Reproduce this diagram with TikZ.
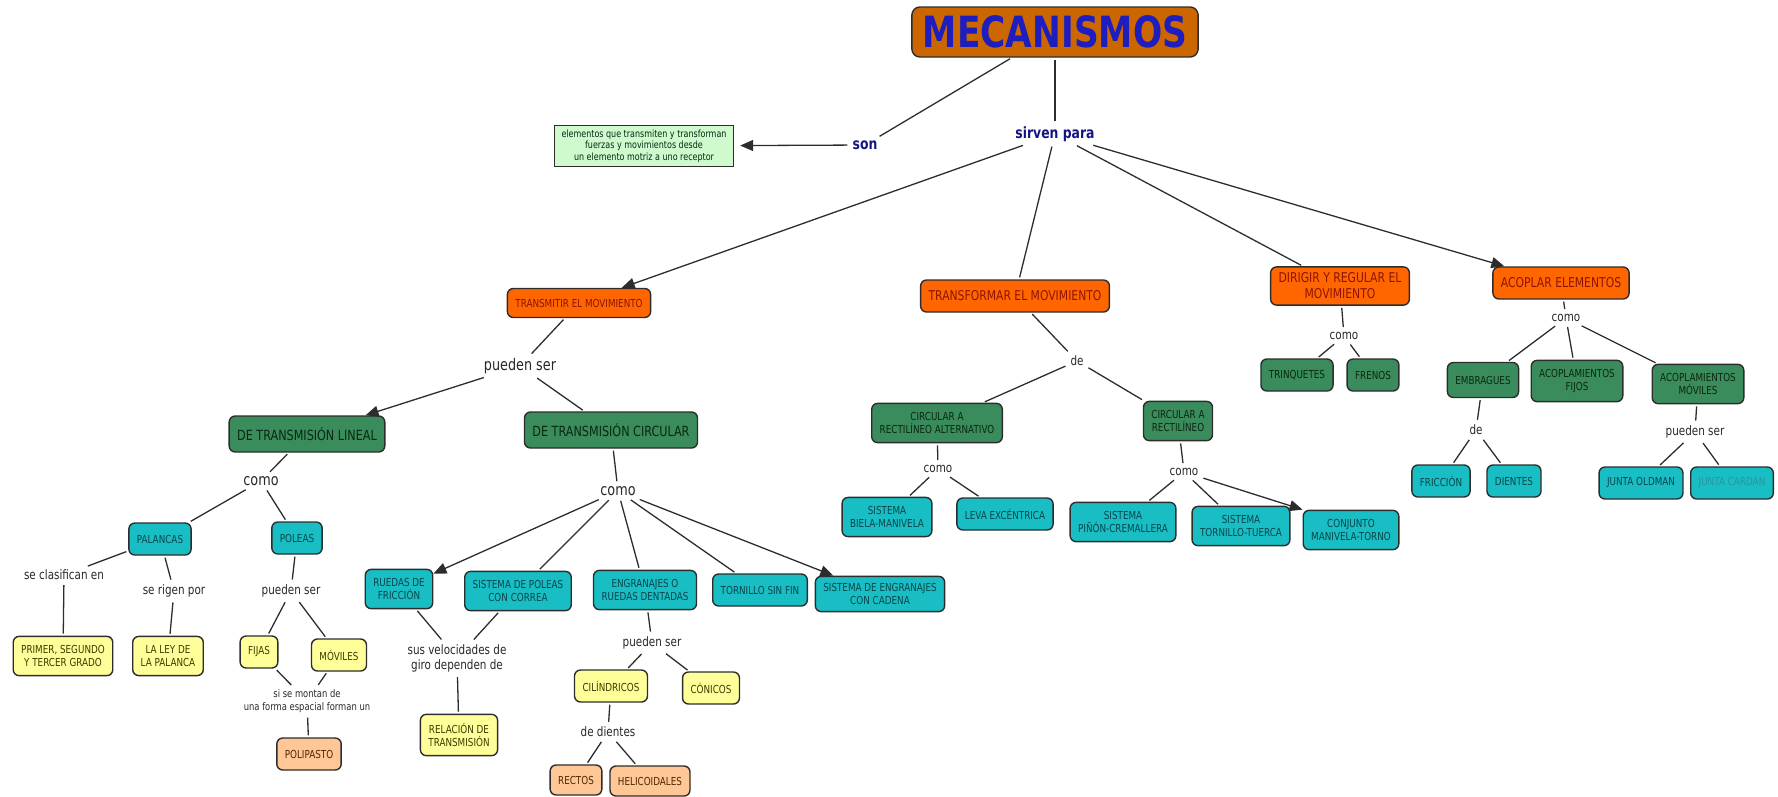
\documentclass[tikz,border=0pt]{standalone}
\usepackage{fontspec}
\setmainfont{DejaVu Sans}[FakeStretch=0.8]
\usetikzlibrary{arrows.meta}

\definecolor{boxline}{RGB}{45,45,45}
\definecolor{mecfill}{RGB}{204,102,0}
\definecolor{mectext}{RGB}{30,30,190}
\definecolor{orfill}{RGB}{255,102,0}
\definecolor{ortext}{RGB}{140,20,0}
\definecolor{grfill}{RGB}{58,140,92}
\definecolor{grtext}{RGB}{10,40,20}
\definecolor{cyfill}{RGB}{24,190,196}
\definecolor{cytext}{RGB}{8,70,76}
\definecolor{cylight}{RGB}{40,150,160}
\definecolor{yefill}{RGB}{255,255,153}
\definecolor{yetext}{RGB}{60,60,0}
\definecolor{pefill}{RGB}{255,198,150}
\definecolor{petext}{RGB}{80,40,0}
\definecolor{deffill}{RGB}{206,250,206}
\definecolor{lbltext}{RGB}{40,40,40}
\definecolor{keytext}{RGB}{20,20,130}

\tikzset{
  box/.style={draw=boxline, line width=1.4pt, rounded corners=6pt, inner xsep=8pt,
    inner ysep=9pt, minimum height=32pt, align=center, font=\fontsize{11}{13}\selectfont},
  orbox/.style={box, fill=orfill, text=ortext, font=\fontsize{13.5}{16}\selectfont},
  grbox/.style={box, fill=grfill, text=grtext},
  cybox/.style={box, fill=cyfill, text=cytext},
  yebox/.style={box, fill=yefill, text=yetext},
  pebox/.style={box, fill=pefill, text=petext},
  bigtext/.style={font=\fontsize{14}{16}\selectfont, minimum height=36pt},
  mecbox/.style={draw=boxline, line width=1.4pt, rounded corners=8pt, fill=mecfill,
    text=mectext, inner xsep=11pt, minimum height=50pt, font=\fontsize{43}{46}\bfseries\selectfont},
  defbox/.style={draw=boxline, line width=1.4pt, fill=deffill, text=grtext, align=center,
    inner xsep=7pt, inner ysep=4pt, font=\fontsize{10}{11.5}\selectfont},
  lbl/.style={text=lbltext, inner sep=3pt, align=center, font=\fontsize{13}{15}\selectfont},
  biglbl/.style={lbl, font=\fontsize{16}{18}\selectfont},
  keylbl/.style={text=keytext, inner sep=3pt, font=\fontsize{15.5}{18}\bfseries\selectfont},
  conn/.style={draw=boxline, line width=1.3pt, shorten <=2pt, shorten >=2pt},
  arr/.style={conn, shorten >=0pt, -{Triangle[length=13pt,width=11pt]}}
}

\begin{document}
\begin{tikzpicture}[x=1pt,y=-1pt]
\useasboundingbox (0,0) rectangle (1778,796);

\node[mecbox] (mec) at (1055,32) {MECANISMOS};
\node[defbox] (def) at (644,146) {elementos que transmiten y transforman\\fuerzas y movimientos desde\\un elemento motriz a uno receptor};
\node[keylbl] (son) at (865,145) {son};
\node[keylbl] (sirven) at (1055,134) {sirven para};

\node[orbox, font=\fontsize{11}{13}\selectfont, minimum height=29pt] (trm) at (579,303) {TRANSMITIR EL MOVIMIENTO};
\node[orbox] (tfm) at (1015,296) {TRANSFORMAR EL MOVIMIENTO};
\node[orbox, inner ysep=6pt] (dir) at (1340,286) {DIRIGIR Y REGULAR EL\\MOVIMIENTO};
\node[orbox] (aco) at (1561,283) {ACOPLAR ELEMENTOS};

\node[biglbl] (ps1) at (520,366) {pueden ser};
\node[grbox, bigtext] (lin) at (307,434) {DE TRANSMISIÓN LINEAL};
\node[grbox, bigtext] (cir) at (611,430) {DE TRANSMISIÓN CIRCULAR};

\node[biglbl] (como1) at (261,481) {como};
\node[cybox] (pal) at (160,539) {PALANCAS};
\node[cybox] (pol) at (297,538) {POLEAS};
\node[lbl] (clas) at (64,575) {se clasifican en};
\node[lbl] (rigen) at (174,591) {se rigen por};
\node[lbl] (ps2) at (291,591) {pueden ser};
\node[yebox] (grado) at (63,656) {PRIMER, SEGUNDO\\Y TERCER GRADO};
\node[yebox] (ley) at (168,656) {LA LEY DE\\LA PALANCA};
\node[yebox] (fij) at (259,652) {FIJAS};
\node[yebox] (mov) at (339,655) {MÓVILES};
\node[lbl, font=\fontsize{10.5}{12.5}\selectfont] (montan) at (307,701) {si se montan de\\una forma espacial forman un};
\node[pebox] (polip) at (309,754) {POLIPASTO};

\node[biglbl] (como2) at (618,491) {como};
\node[cybox] (rue) at (399,589) {RUEDAS DE\\FRICCIÓN};
\node[cybox] (spc) at (518,591) {SISTEMA DE POLEAS\\CON CORREA};
\node[cybox] (eng) at (645,590) {ENGRANAJES O\\RUEDAS DENTADAS};
\node[cybox] (tsf) at (760,590) {TORNILLO SIN FIN};
\node[cybox, inner ysep=7pt] (sec) at (880,594) {SISTEMA DE ENGRANAJES\\CON CADENA};
\node[lbl] (vel) at (457,658) {sus velocidades de\\giro dependen de};
\node[lbl] (ps3) at (652,643) {pueden ser};
\node[yebox] (cil) at (611,686) {CILÍNDRICOS};
\node[yebox] (con) at (711,688) {CÓNICOS};
\node[yebox] (rel) at (459,735) {RELACIÓN DE\\TRANSMISIÓN};
\node[lbl] (dd) at (608,732) {de dientes};
\node[pebox, minimum height=30pt] (rec) at (576,780) {RECTOS};
\node[pebox, minimum height=30pt] (hel) at (650,781) {HELICOIDALES};

\node[lbl] (de1) at (1077,361) {de};
\node[grbox] (cra) at (937,423) {CIRCULAR A\\RECTILÍNEO ALTERNATIVO};
\node[grbox] (cr) at (1178,421) {CIRCULAR A\\RECTILÍNEO};
\node[lbl] (como3) at (938,469) {como};
\node[lbl] (como4) at (1184,472) {como};
\node[cybox] (bm) at (887,517) {SISTEMA\\BIELA-MANIVELA};
\node[cybox] (lev) at (1005,514) {LEVA EXCÉNTRICA};
\node[cybox] (pc) at (1123,522) {SISTEMA\\PIÑÓN-CREMALLERA};
\node[cybox] (tt) at (1241,526) {SISTEMA\\TORNILLO-TUERCA};
\node[cybox] (mt) at (1351,530) {CONJUNTO\\MANIVELA-TORNO};

\node[lbl] (como5) at (1344,336) {como};
\node[grbox] (tri) at (1297,375) {TRINQUETES};
\node[grbox] (fre) at (1373,375) {FRENOS};

\node[lbl] (como6) at (1566,318) {como};
\node[grbox, minimum height=35pt] (emb) at (1483,380) {EMBRAGUES};
\node[grbox] (af) at (1577,381) {ACOPLAMIENTOS\\FIJOS};
\node[grbox] (am) at (1698,384) {ACOPLAMIENTOS\\MÓVILES};
\node[lbl] (de2) at (1476,430) {de};
\node[lbl] (ps4) at (1695,432) {pueden ser};
\node[cybox] (fri) at (1441,481) {FRICCIÓN};
\node[cybox] (die) at (1514,481) {DIENTES};
\node[cybox] (jo) at (1641,483) {JUNTA OLDMAN};
\node[cybox, text=cylight] (jc) at (1732,483) {JUNTA CARDAN};

\draw[conn] (mec) -- (son);
\draw[arr, shorten >=6pt] (son) -- (def);
\draw[conn] (mec) -- (sirven);
\draw[arr] (sirven) -- (trm);
\draw[conn] (sirven) -- (tfm);
\draw[conn] (sirven) -- (dir);
\draw[arr] (sirven) -- (aco);

\draw[conn] (trm) -- (ps1);
\draw[arr] (ps1) -- (lin);
\draw[conn] (ps1) -- (cir);
\draw[conn] (lin) -- (como1);
\draw[conn] (como1) -- (pal);
\draw[conn] (como1) -- (pol);
\draw[conn] (pal) -- (clas);
\draw[conn] (clas) -- (grado);
\draw[conn] (pal) -- (rigen);
\draw[conn] (rigen) -- (ley);
\draw[conn] (pol) -- (ps2);
\draw[conn] (ps2) -- (fij);
\draw[conn] (ps2) -- (mov);
\draw[conn] (fij) -- (montan);
\draw[conn] (mov) -- (montan);
\draw[conn] (montan) -- (polip);

\draw[conn] (cir) -- (como2);
\draw[arr] (como2) -- (rue);
\draw[conn] (como2) -- (spc);
\draw[conn] (como2) -- (eng);
\draw[conn] (como2) -- (tsf);
\draw[arr] (como2) -- (sec);
\draw[conn] (rue) -- (vel);
\draw[conn] (spc) -- (vel);
\draw[conn] (vel) -- (rel);
\draw[conn] (eng) -- (ps3);
\draw[conn] (ps3) -- (cil);
\draw[conn] (ps3) -- (con);
\draw[conn] (cil) -- (dd);
\draw[conn] (dd) -- (rec);
\draw[conn] (dd) -- (hel);

\draw[conn] (tfm) -- (de1);
\draw[conn] (de1) -- (cra);
\draw[conn] (de1) -- (cr);
\draw[conn] (cra) -- (como3);
\draw[conn] (como3) -- (bm);
\draw[conn] (como3) -- (lev);
\draw[conn] (cr) -- (como4);
\draw[conn] (como4) -- (pc);
\draw[conn] (como4) -- (tt);
\draw[arr] (como4) -- (mt.north west);

\draw[conn] (dir) -- (como5);
\draw[conn] (como5) -- (tri);
\draw[conn] (como5) -- (fre);

\draw[conn] (aco) -- (como6);
\draw[conn] (como6) -- (emb);
\draw[conn] (como6) -- (af);
\draw[conn] (como6) -- (am);
\draw[conn] (emb) -- (de2);
\draw[conn] (de2) -- (fri);
\draw[conn] (de2) -- (die);
\draw[conn] (am) -- (ps4);
\draw[conn] (ps4) -- (jo);
\draw[conn] (ps4) -- (jc);
\end{tikzpicture}
\end{document}
